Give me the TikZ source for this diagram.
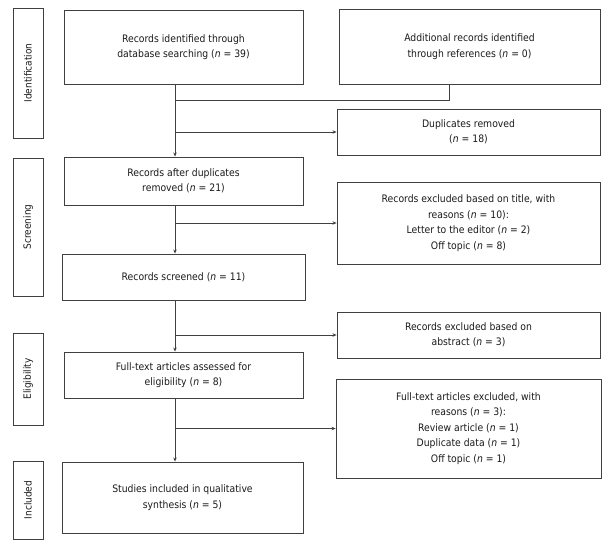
\documentclass[tikz,border=0pt]{standalone}
\usepackage{fontspec}
\setmainfont{DejaVu Sans Condensed}
\usetikzlibrary{arrows.meta}
\definecolor{ln}{HTML}{404040}
\definecolor{tx}{HTML}{1A1A1A}
\tikzset{
  box/.style={draw=ln, line width=0.9pt, inner sep=0pt, align=center, text=tx,
    font=\fontsize{10.3}{15.5}\selectfont},
  side/.style={draw=ln, line width=0.9pt, inner sep=0pt, rotate=90, minimum height=30pt,
    text=tx, font=\fontsize{10}{12}\selectfont},
  conn/.style={draw=ln, line width=0.8pt},
  arr/.style={conn, -{Stealth[length=4pt,width=3.5pt]}}
}
\begin{document}
\begin{tikzpicture}[x=1pt,y=-1pt]
\useasboundingbox (0,0) rectangle (612,547);
% side labels
\node[side, minimum width=130pt] (sid) at (28,73) {Identification};
\node[side, minimum width=138pt] (ssc) at (28,227) {Screening};
\node[side, minimum width=92pt] (sel) at (28,379) {Eligibility};
\node[side, minimum width=78pt] (sin) at (28,500) {Included};
% main boxes
\node[box, minimum width=239pt, minimum height=74pt] (b1) at (183.5,47) {Records identified through\\database searching (\textit{n} = 39)};
\node[box, minimum width=261pt, minimum height=75pt] (b2) at (469.5,46.5) {Additional records identified\\through references (\textit{n} = 0)};
\node[box, minimum width=263pt, minimum height=46pt] (dup) at (468.5,132) {Duplicates removed\\(\textit{n} = 18)};
\node[box, minimum width=239pt, minimum height=48pt] (b3) at (183.5,181) {Records after duplicates\\removed (\textit{n} = 21)};
\node[box, minimum width=263pt, minimum height=82pt] (ex1) at (468.5,223) {Records excluded based on title, with\\reasons (\textit{n} = 10):\\Letter to the editor (\textit{n} = 2)\\Off topic (\textit{n} = 8)};
\node[box, minimum width=243pt, minimum height=46pt] (b4) at (183.5,277) {Records screened (\textit{n} = 11)};
\node[box, minimum width=263pt, minimum height=46pt] (ex2) at (468.5,335) {Records excluded based on\\abstract (\textit{n} = 3)};
\node[box, minimum width=239pt, minimum height=46pt] (b5) at (183.5,375) {Full-text articles assessed for\\eligibility (\textit{n} = 8)};
\node[box, minimum width=265pt, minimum height=99pt] (ex3) at (468.5,428.5) {Full-text articles excluded, with\\reasons (\textit{n} = 3):\\Review article (\textit{n} = 1)\\Duplicate data (\textit{n} = 1)\\Off topic (\textit{n} = 1)};
\node[box, minimum width=241pt, minimum height=71pt] (b6) at (182.5,497.5) {Studies included in qualitative\\synthesis (\textit{n} = 5)};
% connectors
\coordinate (spine) at (175,0);
\coordinate (b2x) at (449,0);
\coordinate (join) at (175,100);
\draw[conn] (b2.south -| b2x) |- (join);
\draw[arr] (b1.south -| spine) -- (b3.north -| spine);
\draw[arr] (dup.west -| spine) -- (dup.west);
\draw[arr] (b3.south -| spine) -- (b4.north -| spine);
\draw[arr] (ex1.west -| spine) -- (ex1.west);
\draw[arr] (b4.south -| spine) -- (b5.north -| spine);
\draw[arr] (ex2.west -| spine) -- (ex2.west);
\draw[arr] (b5.south -| spine) -- (b6.north -| spine);
\draw[arr] (ex3.west -| spine) -- (ex3.west);
\end{tikzpicture}
\end{document}
